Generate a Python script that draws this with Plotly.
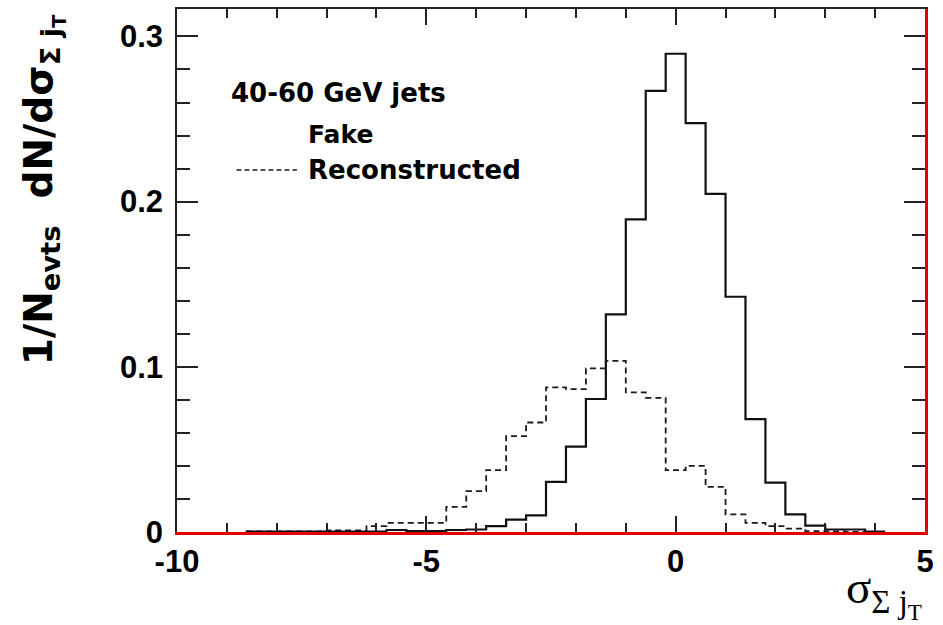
import numpy as np
import plotly.graph_objects as go

# ---- data (bin centres, width 0.4) ----
bin_centers = [-8.4, -8.0, -7.6, -7.2, -6.8, -6.4, -6.0, -5.6, -5.2, -4.8, -4.4, -4.0,
               -3.6, -3.2, -2.8, -2.4, -2.0, -1.6, -1.2, -0.8, -0.4, 0.0, 0.4, 0.8,
               1.2, 1.6, 2.0, 2.4, 2.8, 3.2, 3.6, 4.0]
fake = [0.0003, 0.0003, 0.0003, 0.0003, 0.0003, 0.0003, 0.0003, 0.0012, 0.0005, 0.0005, 0.0012, 0.0015,
        0.0035, 0.0075, 0.0101, 0.0303, 0.0517, 0.0805, 0.1317, 0.1893, 0.2670, 0.2895, 0.2475, 0.2047,
        0.1424, 0.0683, 0.0299, 0.0107, 0.0039, 0.0015, 0.0015, 0.0003]
reconstructed = [0.0003, 0.0003, 0.0003, 0.0003, 0.0010, 0.0010, 0.0036, 0.0055, 0.0055, 0.0055, 0.0152, 0.0247,
                 0.0374, 0.0580, 0.0663, 0.0875, 0.0865, 0.0990, 0.1036, 0.0845, 0.0812, 0.0374, 0.0400, 0.0273,
                 0.0107, 0.0055, 0.0035, 0.0020, 0.0005, 0.0003, 0.0, 0.0]
bin_width = 0.4
x_tick_vals = [-10, -5, 0, 5]
x_tick_text = ["-10", "-5", "0", "5"]
y_tick_vals = [0, 0.1, 0.2, 0.3]
y_tick_text = ["0", "0.1", "0.2", "0.3"]


def step_xy(centers, values):
    c = np.asarray(centers, dtype=float)
    v = np.asarray(values, dtype=float)
    edges = np.append(c - bin_width / 2, c[-1] + bin_width / 2)
    xs = np.concatenate([[edges[0]], edges])
    ys = np.concatenate([[0.0], v, [v[-1]]])
    return xs, ys


W, H = 943, 625
L, R, T, B = 177, 11, 9, 93
PW, PH = W - L - R, H - T - B


def px(xp):
    return (xp - L) / PW


def py(yp):
    return (H - B - yp) / PH


fig = go.Figure()
xs, ys = step_xy(bin_centers, reconstructed)
fig.add_trace(go.Scatter(x=xs, y=ys, mode="lines", line=dict(shape="hv", color="#1a1a1a", width=1.8, dash="6px,4px"),
                         name="Reconstructed", showlegend=False, hoverinfo="skip"))
xs, ys = step_xy(bin_centers, fake)
fig.add_trace(go.Scatter(x=xs, y=ys, mode="lines", line=dict(shape="hv", color="#111", width=2.2),
                         name="Fake", showlegend=False, hoverinfo="skip"))
# invisible trace to carry the top/right axes
fig.add_trace(go.Scatter(x=[-10, 5], y=[0, 0], xaxis="x2", yaxis="y2", mode="lines",
                         line=dict(width=0), showlegend=False, hoverinfo="skip"))

yr = [0, 0.3166]
tick_font = dict(family="Liberation Sans, Arial, sans-serif", size=31, color="black", weight="bold")
fig.update_layout(
    width=W, height=H, margin=dict(l=L, r=R, t=T, b=B),
    paper_bgcolor="white", plot_bgcolor="white", showlegend=False,
    xaxis=dict(range=[-10, 5], showgrid=False, zeroline=False, showline=True, linecolor="#e00000", linewidth=2.5,
               ticks="inside", tickvals=x_tick_vals, ticktext=x_tick_text, ticklen=16, tickwidth=1.5,
               tickcolor="#222", tickfont=tick_font, ticklabelstandoff=0,
               minor=dict(dtick=1, ticks="inside", ticklen=9, tickwidth=1.5, tickcolor="#222", showgrid=False)),
    xaxis2=dict(range=[-10, 5], overlaying="x", side="top", showgrid=False, zeroline=False, showline=True,
                linecolor="#222", linewidth=1.5, ticks="inside", tickvals=x_tick_vals, ticklen=16, tickwidth=1.5,
                tickcolor="#222", showticklabels=False,
                minor=dict(dtick=1, ticks="inside", ticklen=9, tickwidth=1.5, tickcolor="#222", showgrid=False)),
    yaxis=dict(range=yr, showgrid=False, zeroline=False, showline=True, linecolor="#222", linewidth=1.5,
               ticks="inside", tickvals=y_tick_vals, ticktext=y_tick_text, ticklen=21, tickwidth=1.5,
               tickcolor="#222", tickfont=tick_font, ticklabelstandoff=6,
               minor=dict(dtick=0.02, ticks="inside", ticklen=13, tickwidth=1.5, tickcolor="#222", showgrid=False)),
    yaxis2=dict(range=yr, overlaying="y", side="right", showgrid=False, zeroline=False, showline=True,
                linecolor="#e00000", linewidth=2.5, ticks="inside", tickvals=y_tick_vals, ticklen=21, tickwidth=1.5,
                tickcolor="#222", showticklabels=False,
                minor=dict(dtick=0.02, ticks="inside", ticklen=13, tickwidth=1.5, tickcolor="#222", showgrid=False)),
)

bold = "DejaVu Sans, sans-serif"
fig.add_annotation(xref="paper", yref="paper", x=px(42), y=py(190), textangle=-90, showarrow=False,
                   text="<b>1/N<sub>evts</sub>  dN/dσ<sub>Σ j<sub>T</sub></sub></b>",
                   font=dict(family=bold, size=39, color="black"), xanchor="center", yanchor="middle")
fig.add_annotation(xref="paper", yref="paper", x=px(931), y=py(593), showarrow=False,
                   text="σ<sub>Σ j<sub>T</sub></sub>", font=dict(family="Liberation Serif, serif", size=47, color="black"),
                   xanchor="right", yanchor="middle")
fig.add_annotation(xref="paper", yref="paper", x=px(229), y=py(93), showarrow=False,
                   text="<b>40-60 GeV jets</b>", font=dict(family=bold, size=26, color="black"),
                   xanchor="left", yanchor="middle")
fig.add_annotation(xref="paper", yref="paper", x=px(307), y=py(134), showarrow=False,
                   text="<b>Fake</b>", font=dict(family=bold, size=25, color="black"),
                   xanchor="left", yanchor="middle")
fig.add_annotation(xref="paper", yref="paper", x=px(307), y=py(170), showarrow=False,
                   text="<b>Reconstructed</b>", font=dict(family=bold, size=26, color="black"),
                   xanchor="left", yanchor="middle")
fig.add_shape(type="line", xref="paper", yref="paper", x0=px(237), x1=px(298), y0=py(170), y1=py(170),
              line=dict(color="#1a1a1a", width=1.5, dash="5px,3px"))

fig.write_html("out.html")
